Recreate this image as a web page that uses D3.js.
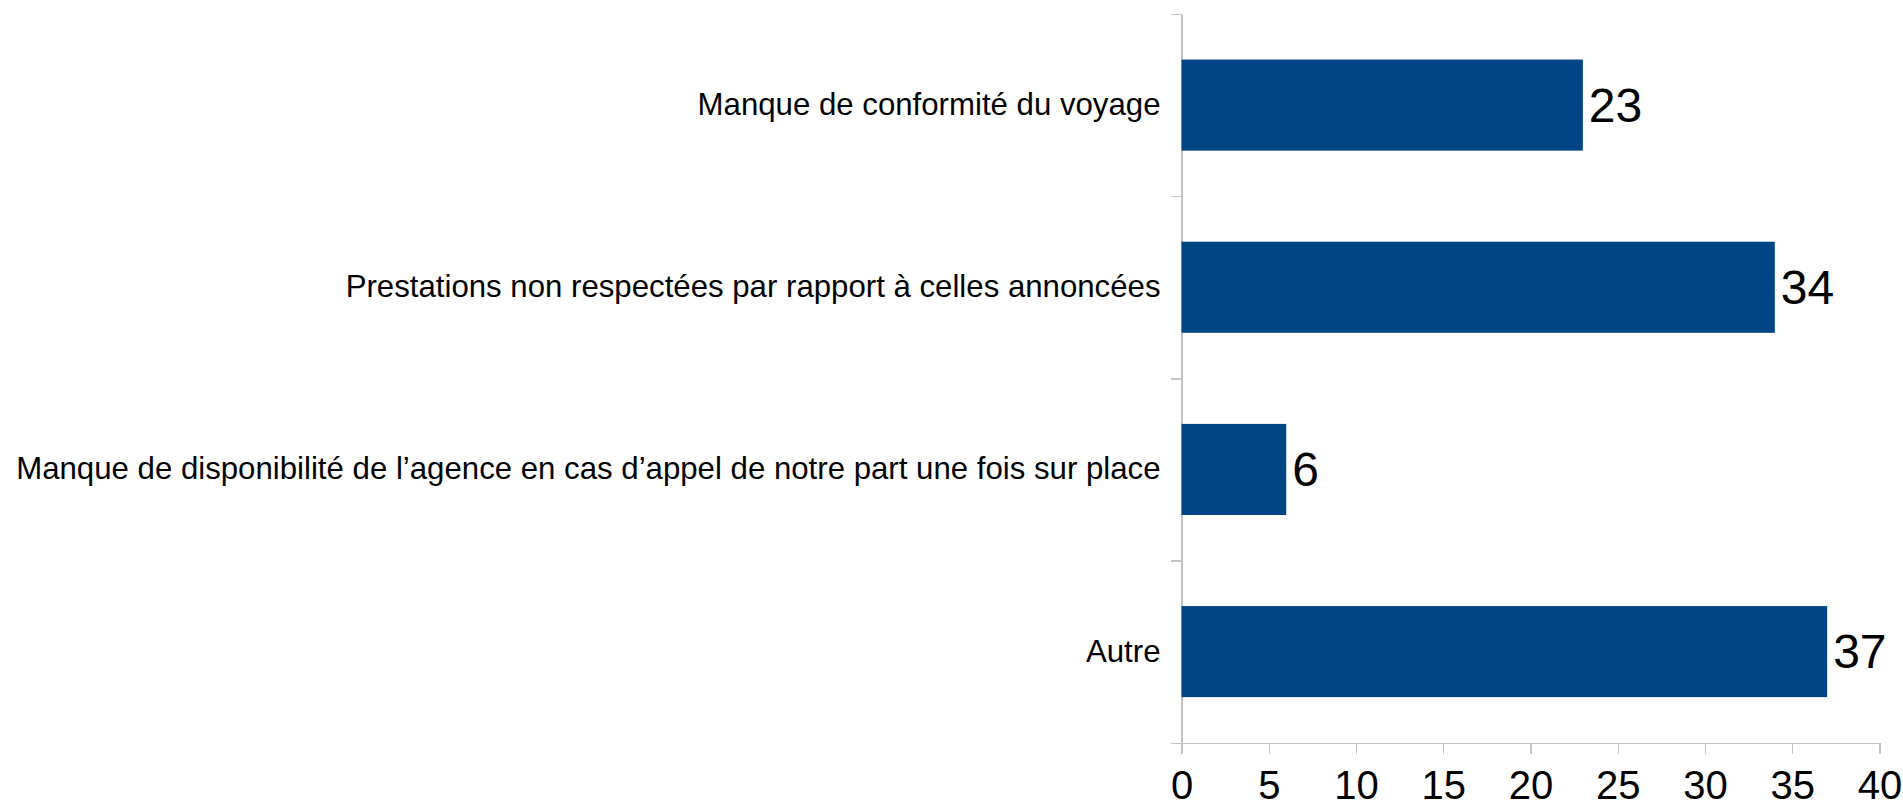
<!DOCTYPE html>
<html>
<head>
    <meta charset="utf-8">
    <title>Bar chart</title>
    <script src="https://d3js.org/d3.v7.min.js"></script>
    <style>
        body { margin: 0; background: #fff; }
        svg { display: block; }
        .axis path,
        .axis line {
            fill: none;
            stroke: #c3c3c3;
            stroke-width: 1.3;
            shape-rendering: crispEdges;
        }
        .axis text {
            font-family: "Liberation Sans", Arial, sans-serif;
            fill: #000;
        }
        .bar { fill: #004586; }
        .value {
            font-family: "Liberation Sans", Arial, sans-serif;
            font-size: 48px;
            fill: #000;
        }
    </style>
</head>
<body>
    <svg width="1903" height="802"></svg>
    <script>
        // data
        const categories = [
            "Manque de conformité du voyage",
            "Prestations non respectées par rapport à celles annoncées",
            "Manque de disponibilité de l’agence en cas d’appel de notre part une fois sur place",
            "Autre"
        ];
        const values = [23, 34, 6, 37];
        const xTicks = [0, 5, 10, 15, 20, 25, 30, 35, 40];

        const plot = { left: 1181.5, right: 1879.5, top: 14, bottom: 742.7 };

        const svg = d3.select("svg");

        const x = d3.scaleLinear()
            .domain([0, 40])
            .range([plot.left, plot.right]);

        const y = d3.scaleBand()
            .domain(categories)
            .range([plot.top, plot.bottom])
            .paddingInner(0.5)
            .paddingOuter(0.25);

        // linear scale just for the separator ticks between categories
        const ySep = d3.scaleLinear()
            .domain([0, categories.length])
            .range([plot.top, plot.bottom]);

        // y axis: line + ticks between bands
        svg.append("g")
            .attr("class", "axis")
            .attr("transform", "translate(" + plot.left + ",0)")
            .call(d3.axisLeft(ySep)
                .tickValues(d3.range(categories.length + 1))
                .tickFormat("")
                .tickSize(11)
                .tickSizeOuter(0));

        // category labels
        svg.append("g")
            .attr("class", "axis")
            .attr("transform", "translate(" + plot.left + ",0)")
            .call(d3.axisLeft(y).tickSize(0).tickPadding(21))
            .call(g => g.select(".domain").remove())
            .selectAll("text")
            .style("font-size", "31.2px");

        // x axis
        svg.append("g")
            .attr("class", "axis")
            .attr("transform", "translate(0," + plot.bottom + ")")
            .call(d3.axisBottom(x)
                .tickValues(xTicks)
                .tickSize(11)
                .tickSizeOuter(0)
                .tickPadding(17))
            .selectAll("text")
            .style("font-size", "40px");

        // bars
        svg.selectAll(".bar")
            .data(values)
            .enter().append("rect")
            .attr("class", "bar")
            .attr("x", x(0))
            .attr("y", (d, i) => y(categories[i]))
            .attr("width", d => x(d) - x(0))
            .attr("height", y.bandwidth());

        // value labels
        svg.selectAll(".value")
            .data(values)
            .enter().append("text")
            .attr("class", "value")
            .attr("x", d => x(d) + 6)
            .attr("y", (d, i) => y(categories[i]) + y.bandwidth() / 2)
            .attr("dy", "0.35em")
            .text(d => d);
    </script>
</body>
</html>
